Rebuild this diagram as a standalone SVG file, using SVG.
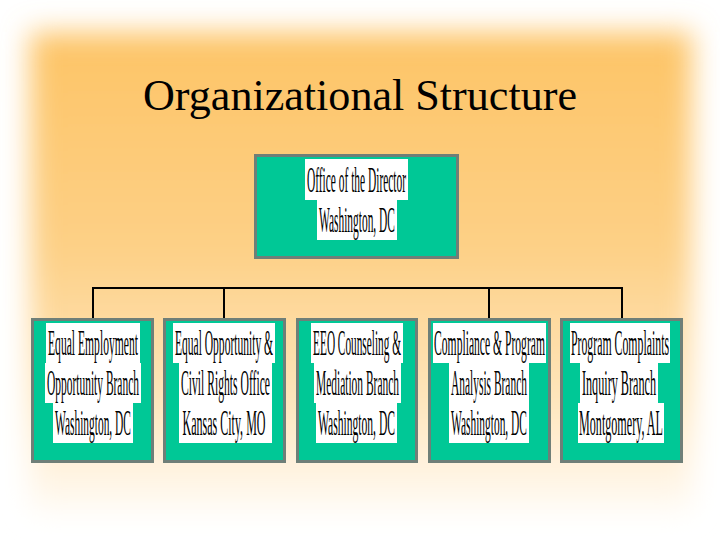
<svg xmlns="http://www.w3.org/2000/svg" width="720" height="540" viewBox="0 0 720 540">
  <defs>
    <linearGradient id="bg" x1="0" y1="0" x2="0" y2="1">
      <stop offset="0" stop-color="#FDC466"/>
      <stop offset="0.45" stop-color="#FDD086"/>
      <stop offset="0.75" stop-color="#FEE4B8"/>
      <stop offset="1" stop-color="#FFFBF5"/>
    </linearGradient>
    <filter id="soft" x="-10%" y="-10%" width="120%" height="120%">
      <feGaussianBlur stdDeviation="14"/>
    </filter>
    <style>
      .box { fill: #00C896; stroke: #6F7F78; stroke-width: 3; }
      .band { fill: #FFFFFF; }
      .lbl { font-family: "Liberation Serif", "Times New Roman", serif; font-size: 35px; fill: #000000; text-anchor: middle; }
      .title { font-family: "Liberation Serif", "Times New Roman", serif; font-size: 44px; fill: #000000; text-anchor: middle; }
      .conn { stroke: #000000; stroke-width: 2; fill: none; }
    </style>
  </defs>

  <rect x="0" y="0" width="720" height="540" fill="#FFFFFF"/>
  <rect x="30" y="32" width="662" height="480" fill="url(#bg)" filter="url(#soft)"/>

  <text class="title" x="360" y="110" textLength="434" lengthAdjust="spacingAndGlyphs">Organizational Structure</text>

  <g id="connectors">
    <path class="conn" d="M93 288 H622 M93 287 V319 M224 288 V319 M489 288 V319 M622 287 V319"/>
  </g>

  <g id="director">
    <rect class="box" x="255.5" y="155.5" width="202" height="102"/>
    <rect class="band" x="305" y="159" width="103" height="41"/>
    <rect class="band" x="317" y="200" width="80" height="40"/>
    <text class="lbl" transform="translate(356.5,192) scale(0.325,1)" textLength="305" lengthAdjust="spacingAndGlyphs">Office of the Director</text>
    <text class="lbl" transform="translate(357,232) scale(0.323,1)" textLength="235" lengthAdjust="spacingAndGlyphs">Washington, DC</text>
  </g>

  <g id="eeo-branch">
    <rect class="box" x="32.5" y="319.5" width="120" height="142"/>
    <rect class="band" x="46" y="323" width="94" height="40"/>
    <rect class="band" x="45" y="363" width="96" height="40"/>
    <rect class="band" x="53" y="403" width="80" height="40"/>
    <text class="lbl" transform="translate(93,355) scale(0.332,1)" textLength="271" lengthAdjust="spacingAndGlyphs">Equal Employment</text>
    <text class="lbl" transform="translate(93,395) scale(0.327,1)" textLength="281" lengthAdjust="spacingAndGlyphs">Opportunity Branch</text>
    <text class="lbl" transform="translate(93,435) scale(0.323,1)" textLength="235" lengthAdjust="spacingAndGlyphs">Washington, DC</text>
  </g>

  <g id="civil-rights">
    <rect class="box" x="164.5" y="319.5" width="120" height="142"/>
    <rect class="band" x="173" y="323" width="102" height="40"/>
    <rect class="band" x="179" y="363" width="93" height="40"/>
    <rect class="band" x="179" y="403" width="93" height="40"/>
    <text class="lbl" transform="translate(224,355) scale(0.329,1)" textLength="298" lengthAdjust="spacingAndGlyphs">Equal Opportunity &amp;</text>
    <text class="lbl" transform="translate(225.5,395) scale(0.332,1)" textLength="268" lengthAdjust="spacingAndGlyphs">Civil Rights Office</text>
    <text class="lbl" transform="translate(224,435) scale(0.34,1)" textLength="244" lengthAdjust="spacingAndGlyphs">Kansas City, MO</text>
  </g>

  <g id="counseling">
    <rect class="box" x="297.5" y="319.5" width="119" height="142"/>
    <rect class="band" x="311" y="323" width="92" height="40"/>
    <rect class="band" x="314" y="363" width="87" height="40"/>
    <rect class="band" x="316" y="403" width="81" height="40"/>
    <text class="lbl" transform="translate(357,355) scale(0.323,1)" textLength="272" lengthAdjust="spacingAndGlyphs">EEO Counseling &amp;</text>
    <text class="lbl" transform="translate(357.5,395) scale(0.327,1)" textLength="254" lengthAdjust="spacingAndGlyphs">Mediation Branch</text>
    <text class="lbl" transform="translate(356.5,435) scale(0.328,1)" textLength="235" lengthAdjust="spacingAndGlyphs">Washington, DC</text>
  </g>

  <g id="compliance">
    <rect class="box" x="429.5" y="319.5" width="120" height="142"/>
    <rect class="band" x="433" y="323" width="113" height="40"/>
    <rect class="band" x="449" y="363" width="80" height="40"/>
    <rect class="band" x="449" y="403" width="80" height="40"/>
    <text class="lbl" transform="translate(489.5,355) scale(0.332,1)" textLength="334" lengthAdjust="spacingAndGlyphs">Compliance &amp; Program</text>
    <text class="lbl" transform="translate(489,395) scale(0.327,1)" textLength="232" lengthAdjust="spacingAndGlyphs">Analysis Branch</text>
    <text class="lbl" transform="translate(489,435) scale(0.323,1)" textLength="235" lengthAdjust="spacingAndGlyphs">Washington, DC</text>
  </g>

  <g id="complaints">
    <rect class="box" x="561.5" y="319.5" width="120" height="142"/>
    <rect class="band" x="570" y="323" width="100" height="40"/>
    <rect class="band" x="580" y="363" width="78" height="40"/>
    <rect class="band" x="578" y="403" width="86" height="40"/>
    <text class="lbl" transform="translate(620,355) scale(0.337,1)" textLength="291" lengthAdjust="spacingAndGlyphs">Program Complaints</text>
    <text class="lbl" transform="translate(619,395) scale(0.348,1)" textLength="213" lengthAdjust="spacingAndGlyphs">Inquiry Branch</text>
    <text class="lbl" transform="translate(621,435) scale(0.34,1)" textLength="247" lengthAdjust="spacingAndGlyphs">Montgomery, AL</text>
  </g>
</svg>
